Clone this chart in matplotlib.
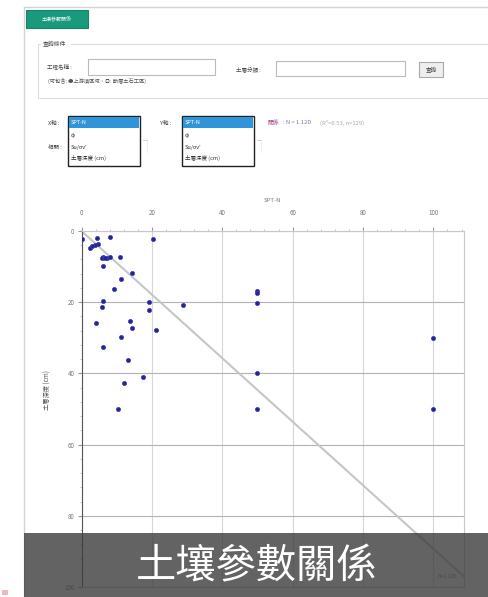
import matplotlib
matplotlib.use("Agg")
import matplotlib.pyplot as plt
from matplotlib.patches import Rectangle
import numpy as np

plt.rcParams['font.family'] = ['Noto Sans CJK TC', 'DejaVu Sans']

# ---- data ----
spt_n = [0, 8.1, 20.4, 4.3, 4.8, 3.8, 2.4, 3.0, 6.1, 7.2, 8.1, 5.7, 6.6, 10.9,
         6.2, 14.3, 11.1, 9.2, 6.2, 5.7, 19.3, 19.3, 28.9, 50, 50, 50, 4.2,
         13.8, 14.3, 21.1, 11.1, 6.2, 13.3, 17.6, 12.2, 10.3, 50, 50, 100, 100]
depth = [2.3, 1.8, 2.3, 2.0, 3.7, 4.0, 4.8, 4.3, 7.3, 7.6, 7.2, 7.7, 7.5, 7.2,
         9.8, 11.8, 13.5, 16.3, 19.7, 21.4, 19.9, 22.3, 20.8, 16.8, 17.5, 20.1, 25.9,
         25.4, 27.3, 27.9, 29.9, 32.6, 36.2, 41.0, 42.6, 50.1, 40, 50, 30, 50]
coef = 1.12          # N = 1.12 D
x_ticks = [0, 20, 40, 60, 80, 100]
y_ticks = [0, 20, 40, 60, 80, 100]
x_options = ["SPT-N", "φ", "Su/σv'", "土層深度 (cm)"]

W, H = 488, 597
fig = plt.figure(figsize=(W / 100, H / 100), dpi=100)
fig.patch.set_facecolor('white')

# ---- UI layer (pixel coords) ----
ui = fig.add_axes([0, 0, 1, 1], zorder=0)
ui.set_xlim(0, W)
ui.set_ylim(H, 0)
ui.axis('off')

def box(x0, y0, x1, y1, ec='#cccccc', fc='none', lw=0.8, ax=ui, **kw):
    ax.add_patch(Rectangle((x0, y0), x1 - x0, y1 - y0, ec=ec, fc=fc, lw=lw, **kw))

def txt(x, y, s, size=4.2, color='#444444', ax=ui, **kw):
    ax.text(x, y, s, fontsize=size, color=color, va='center', ha=kw.pop('ha', 'left'), **kw)

# container
ui.plot([24, W], [7, 7], color='#d5d5d5', lw=1.0)
ui.plot([24, 24], [7, H], color='#d5d5d5', lw=1.0)
# green tab
box(26, 10, 88, 28, ec='#14846a', fc='#1a9a7c', lw=0.8)
txt(57, 19, "土壤參數關係", size=3.6, color='white', ha='center')
# fieldset
box(38, 44, W + 5, 98, ec='#dddddd')
ui.add_patch(Rectangle((41, 40), 30, 8, fc='white', ec='none'))
txt(43, 44.5, "查詢條件", size=4.2)
txt(47, 67, "工程名稱 :", size=4.0)
box(88, 59, 215, 75, ec='#bbbbbb', fc='white')
txt(48, 82, "(可包含: ●上游填區域、◎: 斷層土石工區)", size=3.8, color='#555555')
txt(236, 69, "土層分類 :", size=4.0)
box(276, 61, 405, 76, ec='#bbbbbb', fc='white')
box(419, 62, 443, 77, ec='#aaaaaa', fc='#eeeeee')
txt(431, 69.5, "查詢", size=4.0, ha='center')

# listboxes
def listbox(x0, label_x, label):
    txt(label_x, 123, label, size=4.0)
    box(x0, 116, x0 + 72, 166, ec='#222222', fc='white', lw=1.0)
    ui.add_patch(Rectangle((x0 + 0.8, 116.8), 70.4, 11, fc='#2f95d8', ec='none'))
    ys = [122.3, 136, 147, 158]
    for i, (opt, yy) in enumerate(zip(x_options, ys)):
        txt(x0 + 3, yy, opt, size=4.0, color='white' if i == 0 else '#333333')
    ui.plot([x0 + 75, x0 + 79], [140, 140], color='#cccccc', lw=0.6)
    ui.plot([x0 + 79, x0 + 79], [140, 152], color='#cccccc', lw=0.6, ls=':')

listbox(68, 48, "X軸 :")
txt(48, 147, "相關 :", size=4.0)
listbox(182, 160, "Y軸 :")
txt(268, 123, "關係", size=4.2, color='#a0408a')
txt(283, 123, ": N = 1.12D", size=4.2, color='#7a7ab0')
txt(320, 123, "(R²=0.53, n=129)", size=4.2, color='#aaaaaa')

# ---- chart ----
L, R, T, B = 81.5, 464, 231, 587
ax = fig.add_axes([L / W, 1 - B / H, (R - L) / W, (B - T) / H], zorder=2)
ax.set_facecolor('none')
xmax = 108.7
ax.set_xlim(0, xmax)
ax.set_ylim(100, 0)

lx = np.array([0, xmax])
ax.plot(lx, lx / coef, color='#c6c6c6', lw=1.5, zorder=2)
ax.scatter(spt_n, depth, s=9, color='#262680', edgecolors='#3a3ad0', linewidths=0.5, zorder=3)

ax.xaxis.tick_top()
ax.set_xticks(x_ticks)
ax.set_yticks(y_ticks)
ax.set_xticks(np.arange(0, xmax, 4), minor=True)
ax.set_yticks(np.arange(0, 100.1, 4), minor=True)
ax.tick_params(which='major', length=3, color='#999999', labelsize=4.5, labelcolor='#777777')
ax.tick_params(axis='x', which='major', pad=7)
ax.tick_params(axis='y', which='major', pad=2)
ax.tick_params(which='minor', length=1.5, color='#bbbbbb', top=True, left=True)
ax.grid(axis='x', which='major', color='#d6d6d6', lw=0.8)
ax.grid(axis='y', which='major', color='#b3b3b3', lw=0.8)
for side in ['top', 'right', 'bottom']:
    ax.spines[side].set_color('#c8c8c8')
ax.spines['left'].set_color('#555555')
ax.spines['bottom'].set_linewidth(0.8)

fig.text((L + R) / 2 / W, 1 - 200 / H, "SPT-N", fontsize=4.3, color='#777777', ha='center', va='center')
fig.text(48 / W, 1 - 390 / H, "土層深度 (cm)", fontsize=4.5, color='#555555', rotation=90, ha='center', va='center')
ax.text(104, 97, "N=1.12D", fontsize=3.5, color='#888888', ha='center', va='center')

# ---- banner overlay ----
ov = fig.add_axes([0, 0, 1, 1], zorder=5)
ov.set_xlim(0, W)
ov.set_ylim(H, 0)
ov.axis('off')
ov.patch.set_alpha(0)
ov.add_patch(Rectangle((24, 533), W - 24, H - 533, fc='#3c3c3c', ec='none', alpha=0.8))
ov.text(257, 567, "土壤參數關係", fontsize=29, color='white', ha='center', va='center')
ov.add_patch(Rectangle((2, 590), 6, 5, fc='#f2b8b8', ec='none'))

fig.savefig("out.png", dpi=100)
